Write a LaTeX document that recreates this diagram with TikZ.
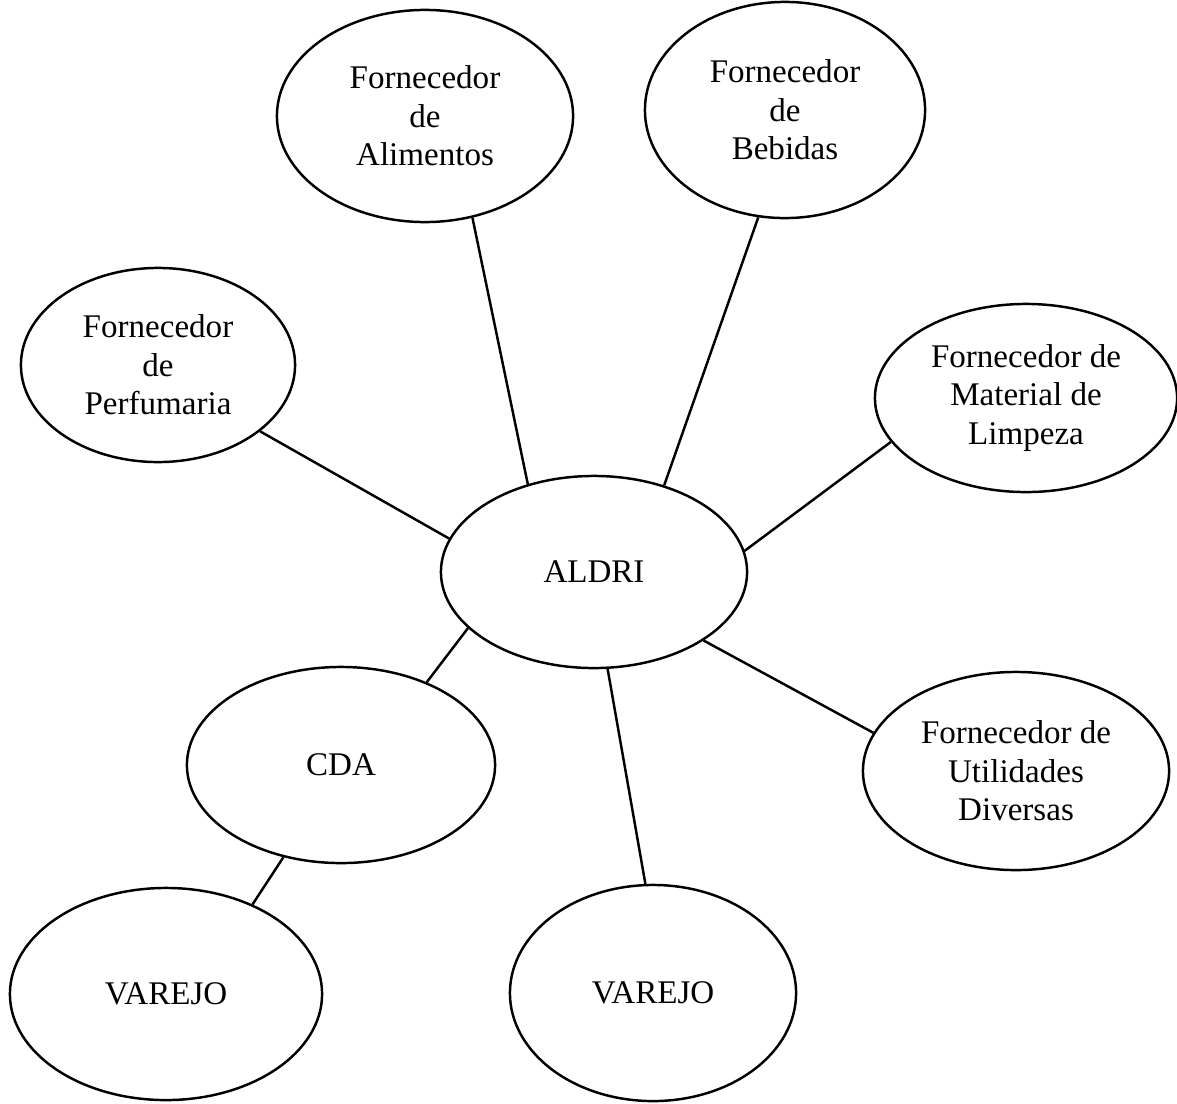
\documentclass[tikz,border=0pt]{standalone}
\usepackage{fontspec}
\setmainfont{Liberation Serif}
\usetikzlibrary{shapes.geometric}

\begin{document}
\begin{tikzpicture}[x=0.01cm,y=-0.01cm,
	bubble/.style={ellipse,draw,line width=0.7pt,inner sep=0pt,align=center,
		font=\fontsize{9.4pt}{10.9pt}\selectfont},
	link/.style={line width=0.7pt}]
	\useasboundingbox (0,0) rectangle (1177,1103);

	\node[bubble,minimum width=3.06cm,minimum height=1.92cm] (aldri) at (594,572) {ALDRI};
	\node[bubble,minimum width=2.96cm,minimum height=2.12cm] (alim) at (425,116) {Fornecedor\\de\\Alimentos};
	\node[bubble,minimum width=2.80cm,minimum height=2.16cm] (beb) at (785,110) {Fornecedor\\de\\Bebidas};
	\node[bubble,minimum width=2.74cm,minimum height=1.94cm] (perf) at (158,365) {Fornecedor\\de\\Perfumaria};
	\node[bubble,minimum width=3.02cm,minimum height=1.88cm] (limp) at (1026,398) {Fornecedor de\\Material de\\Limpeza};
	\node[bubble,minimum width=3.06cm,minimum height=1.98cm] (util) at (1016,771) {Fornecedor de\\Utilidades\\Diversas};
	\node[bubble,minimum width=3.08cm,minimum height=1.96cm] (cda) at (341,765) {CDA};
	\node[bubble,minimum width=3.12cm,minimum height=2.12cm] (varejoA) at (166,994) {VAREJO};
	\node[bubble,minimum width=2.86cm,minimum height=2.16cm] (varejoB) at (653,993) {VAREJO};

	\draw[link] (alim.-65.7) -- (aldri.127.3);
	\draw[link] (beb.-104) -- (aldri.51.7);
	\draw[link] (perf.-33.6) -- (aldri.167.9);
	\draw[link] (limp.198) -- (aldri.8.5);
	\draw[link] (util.165) -- (aldri.-32.1);
	\draw[link] (cda.44.3) -- (aldri.204.8);
	\draw[link] (varejoB.94.8) -- (aldri.-82);
	\draw[link] (varejoA.46) -- (cda.-122);
\end{tikzpicture}
\end{document}
